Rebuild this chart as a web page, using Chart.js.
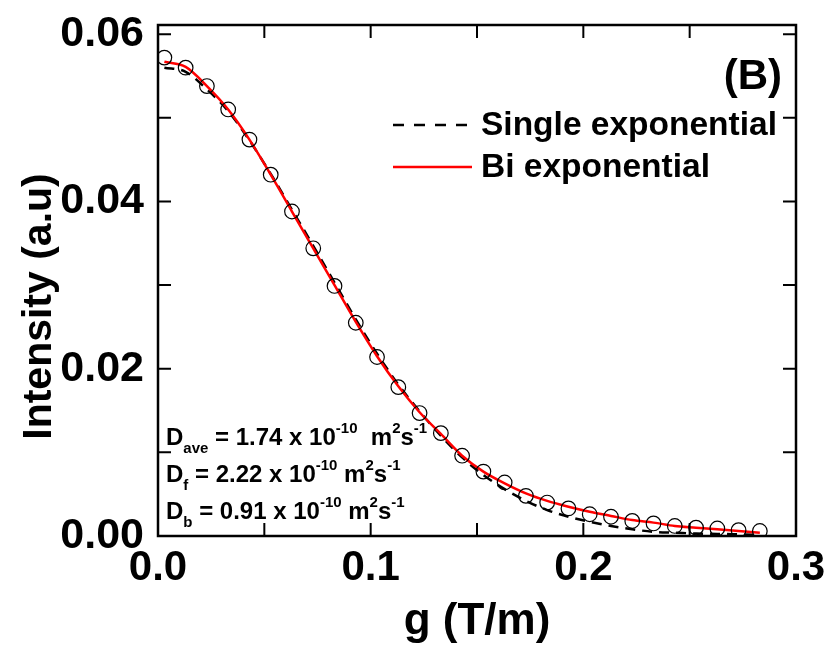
<!DOCTYPE html>
<html><head><meta charset="utf-8">
<script src="https://cdn.jsdelivr.net/npm/chart.js@4.4.0/dist/chart.umd.min.js"></script>
<style>html,body{margin:0;padding:0;background:#fff;} #wrap{width:829px;height:649px;position:relative;}</style>
</head><body><div id="wrap"><canvas id="c" width="829" height="649"></canvas></div>
<script>
// gradient strength g (T/m)
const gradient = [0.003,0.013,0.023,0.033,0.043,0.053,0.063,0.073,0.083,0.093,0.103,0.113,0.123,0.133,0.143,0.153,0.163,0.173,0.183,0.193,0.203,0.213,0.223,0.233,0.243,0.253,0.263,0.273,0.283];
// measured intensity (open circles)
const measured = [0.0572,0.0560,0.0538,0.0510,0.0474,0.0432,0.0388,0.0344,0.0299,0.0255,0.0214,0.0178,0.0147,0.0123,0.0096,0.0077,0.0064,0.0048,0.0040,0.0033,0.0026,0.0023,0.0018,0.0015,0.0012,0.0010,0.0009,0.0007,0.0006];
// single exponential fit (black dashed)
const singleExp = [0.0560,0.0555,0.0534,0.0508,0.0473,0.0433,0.0390,0.0347,0.0303,0.0259,0.0218,0.0181,0.0149,0.0120,0.0094,0.0073,0.0056,0.0042,0.0031,0.0023,0.0017,0.0012,0.0008,0.0005,0.0004,0.0003,0.00025,0.0002,0.00015];
// bi exponential fit (red)
const biExp = [0.0567,0.0561,0.0538,0.0510,0.0474,0.0432,0.0388,0.0344,0.0300,0.0256,0.0215,0.0179,0.0148,0.0122,0.0096,0.0077,0.0063,0.0051,0.0042,0.0035,0.0029,0.0024,0.0019,0.0016,0.0012,0.0010,0.0008,0.0006,0.0004];

const xTickLabels = [0.0,0.1,0.2,0.3];
const yTickLabels = [0.00,0.02,0.04,0.06];
const xTickMarks = [0.05,0.1,0.15,0.2,0.25];
const yTickMarks = [0.01,0.02,0.03,0.04,0.05,0.06];

const xTitle = 'g (T/m)';
const yTitle = 'Intensity (a.u)';
const panelLabel = '(B)';
const annotationLines = [
  [['D',''],['ave','sub'],[' = 1.74 x 10',''],['-10','sup'],['  m',''],['2','sup'],['s',''],['-1','sup']],
  [['D',''],['f','sub'],[' = 2.22 x 10',''],['-10','sup'],[' m',''],['2','sup'],['s',''],['-1','sup']],
  [['D',''],['b','sub'],[' = 0.91 x 10',''],['-10','sup'],[' m',''],['2','sup'],['s',''],['-1','sup']]
];

const FONT = '"Liberation Sans", Arial, Helvetica, sans-serif';

const pts = arr => gradient.map((g,i)=>({x:g,y:arr[i]}));

const framePlugin = {
  id:'frame',
  afterDatasetsDraw(chart){
    const {ctx, chartArea:a, scales:{x,y}} = chart;
    ctx.save();
    ctx.strokeStyle='#000';
    ctx.lineWidth=2;
    const tl=13;
    ctx.beginPath();
    xTickMarks.forEach(v=>{const p=x.getPixelForValue(v);
      ctx.moveTo(p,a.bottom); ctx.lineTo(p,a.bottom-tl);
      ctx.moveTo(p,a.top); ctx.lineTo(p,a.top+tl);});
    yTickMarks.forEach(v=>{const p=y.getPixelForValue(v);
      ctx.moveTo(a.left,p); ctx.lineTo(a.left+tl,p);
      ctx.moveTo(a.right,p); ctx.lineTo(a.right-tl,p);});
    ctx.stroke();
    ctx.lineWidth=2.5;
    ctx.strokeRect(a.left,a.top,a.right-a.left,a.bottom-a.top);

    ctx.fillStyle='#000';
    // y axis title
    ctx.save();
    ctx.translate(40,(a.top+a.bottom)/2+26);
    ctx.rotate(-Math.PI/2);
    ctx.font='bold 41px '+FONT;
    ctx.textAlign='center'; ctx.textBaseline='middle';
    ctx.fillText(yTitle,0,0);
    ctx.restore();

    // panel label
    ctx.font='bold 42px '+FONT;
    ctx.textAlign='right'; ctx.textBaseline='middle';
    ctx.fillText(panelLabel, a.right-14, a.top+52);

    // legend
    const items=[chart.data.datasets[1], chart.data.datasets[2]];
    const lx0=a.left+235, lx1=a.left+314, ly0=a.top+100, step=42;
    ctx.font='bold 33.5px '+FONT;
    ctx.textAlign='left';
    items.forEach((ds,i)=>{
      const yy=ly0+i*step;
      ctx.save();
      ctx.strokeStyle=ds.borderColor; ctx.lineWidth=2.5;
      ctx.setLineDash(ds.borderDash? [11,10]:[]);
      ctx.beginPath(); ctx.moveTo(lx0,yy); ctx.lineTo(lx1,yy); ctx.stroke();
      ctx.restore();
      ctx.fillText(ds.label, lx1+9, yy+1);
    });

    // annotation
    ctx.textBaseline='alphabetic';
    const baseX=a.left+8, baseY=[a.top+420,a.top+457,a.top+494];
    annotationLines.forEach((line,li)=>{
      let cx=baseX;
      line.forEach(([t,k])=>{
        let yy=baseY[li];
        if(k==='sub'){ctx.font='bold 15px '+FONT; yy+=8;}
        else if(k==='sup'){ctx.font='bold 15px '+FONT; yy-=12;}
        else ctx.font='bold 24px '+FONT;
        ctx.fillText(t,cx,yy);
        cx+=ctx.measureText(t).width;
      });
    });
    ctx.restore();
  }
};

new Chart(document.getElementById('c'),{
  type:'scatter',
  data:{datasets:[
    {label:'Data',data:pts(measured),showLine:false,pointStyle:'circle',pointRadius:7.3,pointHoverRadius:7.3,
     borderColor:'#000',backgroundColor:'rgba(0,0,0,0)',pointBorderWidth:1.2,borderWidth:1.2,order:1},
    {label:'Single exponential',data:pts(singleExp),showLine:true,pointRadius:0,borderColor:'#000',
     borderWidth:2.5,borderDash:[10,7],cubicInterpolationMode:'monotone',fill:false,order:3},
    {label:'Bi exponential',data:pts(biExp),showLine:true,pointRadius:0,borderColor:'#ff0000',
     borderWidth:2.5,cubicInterpolationMode:'monotone',fill:false,order:2}
  ]},
  options:{
    responsive:false,animation:false,
    layout:{padding:{top:25,right:33,left:0,bottom:0}},
    plugins:{legend:{display:false},tooltip:{enabled:false}},
    scales:{
      x:{type:'linear',min:0,max:0.3,
        afterFit(s){s.height=113; s.paddingLeft=0; s.paddingRight=0;},
        afterBuildTicks(s){s.ticks=xTickLabels.map(v=>({value:v}));},
        grid:{display:false,drawTicks:false},border:{display:false},
        ticks:{color:'#000',font:{family:FONT,size:42,weight:'bold'},padding:7,maxRotation:0,
          callback:v=>v.toFixed(1)},
        title:{display:true,text:xTitle,color:'#000',font:{family:FONT,size:44,weight:'bold'},padding:{top:0,bottom:1}}
      },
      y:{type:'linear',min:0,max:0.0611,
        afterFit(s){s.width=158; s.paddingTop=0; s.paddingBottom=0;},
        afterBuildTicks(s){s.ticks=yTickLabels.map(v=>({value:v}));},
        grid:{display:false,drawTicks:false},border:{display:false},
        ticks:{color:'#000',font:{family:FONT,size:43,weight:'bold'},padding:14,
          callback:v=>v.toFixed(2)},
        title:{display:false}
      }
    }
  },
  plugins:[framePlugin]
});
</script></body></html>
